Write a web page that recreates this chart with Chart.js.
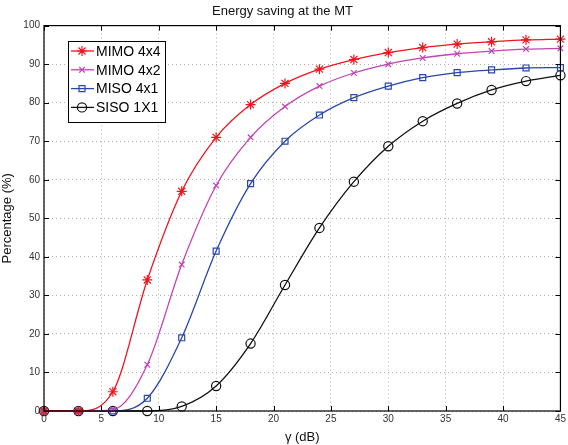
<!DOCTYPE html>
<html>
<head>
<meta charset="utf-8">
<script src="https://cdn.jsdelivr.net/npm/chart.js@4.4.1/dist/chart.umd.min.js"></script>
<style>
  html, body { margin: 0; padding: 0; background: #fff; }
  #wrap { width: 568px; height: 445px; position: relative; }
</style>
</head>
<body>
<div id="wrap"><canvas id="chart"></canvas></div>
<script>
// gamma (dB) where the markers sit
const gammaDb = [0, 3, 6, 9, 12, 15, 18, 21, 24, 27, 30, 33, 36, 39, 42, 45];

const mimo4x4 = [0, 0, 5, 34, 57, 71, 79.5, 85, 88.7, 91.2, 93, 94.3, 95.2, 95.8, 96.3, 96.5];
const mimo4x2 = [0, 0, 0.3, 12, 38, 58.5, 71, 79, 84.3, 87.7, 90, 91.6, 92.7, 93.4, 93.9, 94.1];
const miso4x1 = [0, 0, 0, 3.3, 19, 41.5, 59, 70, 76.8, 81.3, 84.3, 86.5, 87.8, 88.5, 89, 89.1];
const siso1x1 = [0, 0, 0, 0, 1.2, 6.5, 17.5, 32.7, 47.5, 59.5, 68.7, 75.2, 79.8, 83.3, 85.6, 87.1];

const xTicks = [0, 5, 10, 15, 20, 25, 30, 35, 40, 45];
const yTicks = [0, 10, 20, 30, 40, 50, 60, 70, 80, 90, 100];

const seriesNames = ['MIMO 4x4', 'MIMO 4x2', 'MISO 4x1', 'SISO 1X1'];
const seriesColors = ['#f0141e', '#c044b4', '#2a48a8', '#111111'];
const seriesMarkers = ['star', 'crossRot', 'rect', 'circle'];
const markerSizes = [5, 4, 4.2, 4.6];

const FONT = '"Liberation Sans", Arial, sans-serif';

function toPoints(ys) {
    return gammaDb.map((x, i) => ({ x: x, y: ys[i] }));
}

const allSeries = [mimo4x4, mimo4x2, miso4x1, siso1x1];
const datasets = allSeries.map((ys, i) => ({
    label: seriesNames[i],
    data: toPoints(ys),
    borderColor: seriesColors[i],
    backgroundColor: 'rgba(0,0,0,0)',
    borderWidth: 1.3,
    pointStyle: seriesMarkers[i],
    pointRadius: markerSizes[i],
    pointBorderColor: seriesColors[i],
    pointBackgroundColor: 'rgba(0,0,0,0)',
    pointBorderWidth: 1.2,
    cubicInterpolationMode: 'monotone',
    clip: false
}));

// frame, inward ticks and MATLAB-like legend
const matlabFrame = {
    id: 'matlabFrame',
    afterDatasetsDraw(chart) {
        const ctx = chart.ctx;
        const a = chart.chartArea;
        const xs = chart.scales.x, ys = chart.scales.y;
        ctx.save();
        ctx.strokeStyle = '#000';
        ctx.lineWidth = 1.2;
        ctx.strokeRect(a.left, a.top, a.right - a.left, a.bottom - a.top);
        ctx.lineWidth = 1;
        ctx.beginPath();
        xTicks.forEach(t => {
            const px = Math.round(xs.getPixelForValue(t)) + 0.5;
            ctx.moveTo(px, a.bottom); ctx.lineTo(px, a.bottom - 5);
            ctx.moveTo(px, a.top); ctx.lineTo(px, a.top + 5);
        });
        yTicks.forEach(t => {
            const py = Math.round(ys.getPixelForValue(t)) + 0.5;
            ctx.moveTo(a.left, py); ctx.lineTo(a.left + 5, py);
            ctx.moveTo(a.right, py); ctx.lineTo(a.right - 5, py);
        });
        ctx.stroke();

        // legend box
        const bx = 68, by = 41, bw = 97, bh = 81;
        ctx.fillStyle = '#fff';
        ctx.fillRect(bx, by, bw, bh);
        ctx.strokeStyle = '#000';
        ctx.lineWidth = 1;
        ctx.strokeRect(bx + 0.5, by + 0.5, bw, bh);
        ctx.font = '14px ' + FONT;
        ctx.textBaseline = 'middle';
        seriesNames.forEach((name, i) => {
            const ry = 51 + i * 18.8;
            ctx.strokeStyle = seriesColors[i];
            ctx.lineWidth = 1.3;
            ctx.beginPath();
            ctx.moveTo(71, ry); ctx.lineTo(94, ry);
            ctx.stroke();
            ctx.fillStyle = 'rgba(0,0,0,0)';
            ctx.lineWidth = 1.2;
            Chart.helpers.drawPoint(ctx, {
                pointStyle: seriesMarkers[i],
                radius: markerSizes[i],
                borderWidth: 1.2
            }, 82, ry);
            ctx.fillStyle = '#000';
            ctx.fillText(name, 96, ry + 1);
        });
        ctx.restore();
    }
};

new Chart(document.getElementById('chart'), {
    type: 'line',
    data: { datasets: datasets },
    options: {
        responsive: true,
        maintainAspectRatio: false,
        animation: false,
        layout: { padding: { top: 0, right: 3, left: 0, bottom: 0 } },
        plugins: {
            legend: { display: false },
            tooltip: { enabled: false },
            title: {
                display: true,
                text: 'Energy saving at the MT',
                color: '#111',
                font: { family: FONT, size: 13, weight: 'normal' },
                padding: { top: 4, bottom: 6 }
            }
        },
        scales: {
            x: {
                type: 'linear',
                min: 0,
                max: 45,
                afterBuildTicks: s => { s.ticks = xTicks.map(v => ({ value: v })); },
                afterFit: s => { s.height = 34; },
                ticks: { color: '#333', font: { family: FONT, size: 10 }, padding: 2, maxRotation: 0 },
                grid: { color: '#b0b0b0', lineWidth: 1, drawTicks: false },
                border: { display: false, dash: [1, 3] },
                title: {
                    display: true,
                    text: 'γ (dB)',
                    color: '#111',
                    font: { family: FONT, size: 13 },
                    padding: { top: 0, bottom: 0 }
                }
            },
            y: {
                min: 0,
                max: 100,
                afterBuildTicks: s => { s.ticks = yTicks.map(v => ({ value: v })); },
                afterFit: s => { s.width = 44; },
                ticks: { color: '#333', font: { family: FONT, size: 10 }, padding: 4 },
                grid: { color: '#b0b0b0', lineWidth: 1, drawTicks: false },
                border: { display: false, dash: [1, 3] },
                title: {
                    display: true,
                    text: 'Percentage (%)',
                    color: '#111',
                    font: { family: FONT, size: 13 },
                    padding: { top: 0, bottom: 2 }
                }
            }
        }
    },
    plugins: [matlabFrame]
});
</script>
</body>
</html>
